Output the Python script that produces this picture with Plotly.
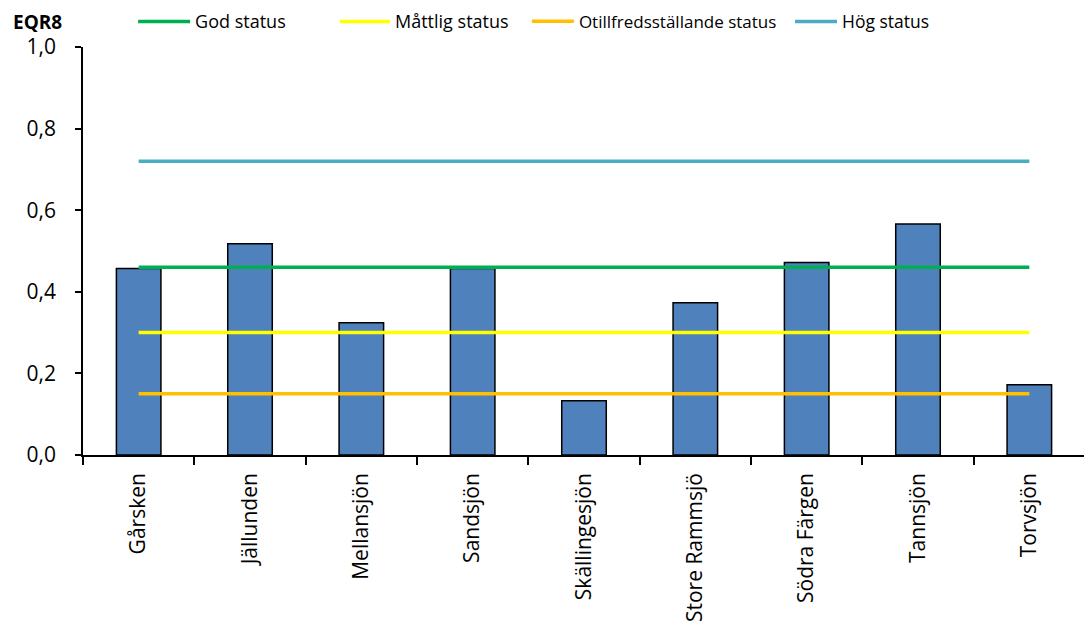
import plotly.graph_objects as go

categories = ["Gårsken", "Jällunden", "Mellansjön", "Sandsjön", "Skällingesjön",
              "Store Rammsjö", "Södra Färgen", "Tannsjön", "Torvsjön"]
eqr8 = [0.457, 0.518, 0.324, 0.457, 0.133, 0.373, 0.472, 0.566, 0.172]

god = [0.46] * 9
mattlig = [0.30] * 9
otillfreds = [0.15] * 9
hog = [0.72] * 9

FONT = "Open Sans, sans-serif"

fig = go.Figure()
fig.add_trace(go.Bar(x=categories, y=eqr8, name="EQR8", showlegend=False,
                     marker=dict(color="#4F81BD", line=dict(color="#000000", width=1.5)),
                     width=0.4))

# (name, values, colour, legend id, legend x, item width, font size)
lines = [("God status", god, "#00B050", "legend", 0.050, 52, 18),
         ("Måttlig status", mattlig, "#FFFF00", "legend2", 0.2515, 50, 18),
         ("Otillfredsställande status", otillfreds, "#FFC000", "legend3", 0.443, 42, 17),
         ("Hög status", hog, "#4BACC6", "legend4", 0.7056, 42, 17.5)]
for name, vals, col, lg, *_ in lines:
    fig.add_trace(go.Scatter(x=categories, y=vals, name=name, mode="lines",
                             line=dict(color=col, width=3.5), legend=lg))

legend_cfg = {}
for name, vals, col, lg, lx, iw, fs in lines:
    legend_cfg[lg] = dict(orientation="h", yanchor="middle", y=1.062, xanchor="left", x=lx,
                          font=dict(family=FONT, size=fs, color="#000000"),
                          bgcolor="rgba(0,0,0,0)", itemwidth=iw, tracegroupgap=0)
fig.update_layout(**legend_cfg)

fig.update_layout(
    width=1084, height=619,
    margin=dict(l=75, r=7, t=39, b=172, autoexpand=False),
    plot_bgcolor="white", paper_bgcolor="white",
    font=dict(family=FONT, size=20, color="#000000"),
    xaxis=dict(type="category", tickangle=-90, showline=True, linecolor="#000000",
               linewidth=1.5, ticks="outside", ticklen=8, tickcolor="#000000",
               tickwidth=1.5, tickson="boundaries", showgrid=False, automargin=False,
               ticklabelstandoff=8,
               tickfont=dict(family=FONT, size=21), range=[-0.5, 8.5]),
    yaxis=dict(range=[0, 1.0], dtick=0.2, tickformat=".1f", showline=True,
               linecolor="#000000", linewidth=1.5, ticks="outside", ticklen=6,
               tickcolor="#000000", tickwidth=1.5, showgrid=False, zeroline=False,
               automargin=False, ticklabelstandoff=15,
               tickfont=dict(family=FONT, size=21)),
    separators=", ",
    annotations=[dict(text="<b>EQR8</b>", xref="paper", yref="paper", x=-0.0719, y=1.062,
                      xanchor="left", yanchor="middle", showarrow=False,
                      font=dict(family=FONT, size=19, color="#000000"))],
)

fig.write_html("out.html")
